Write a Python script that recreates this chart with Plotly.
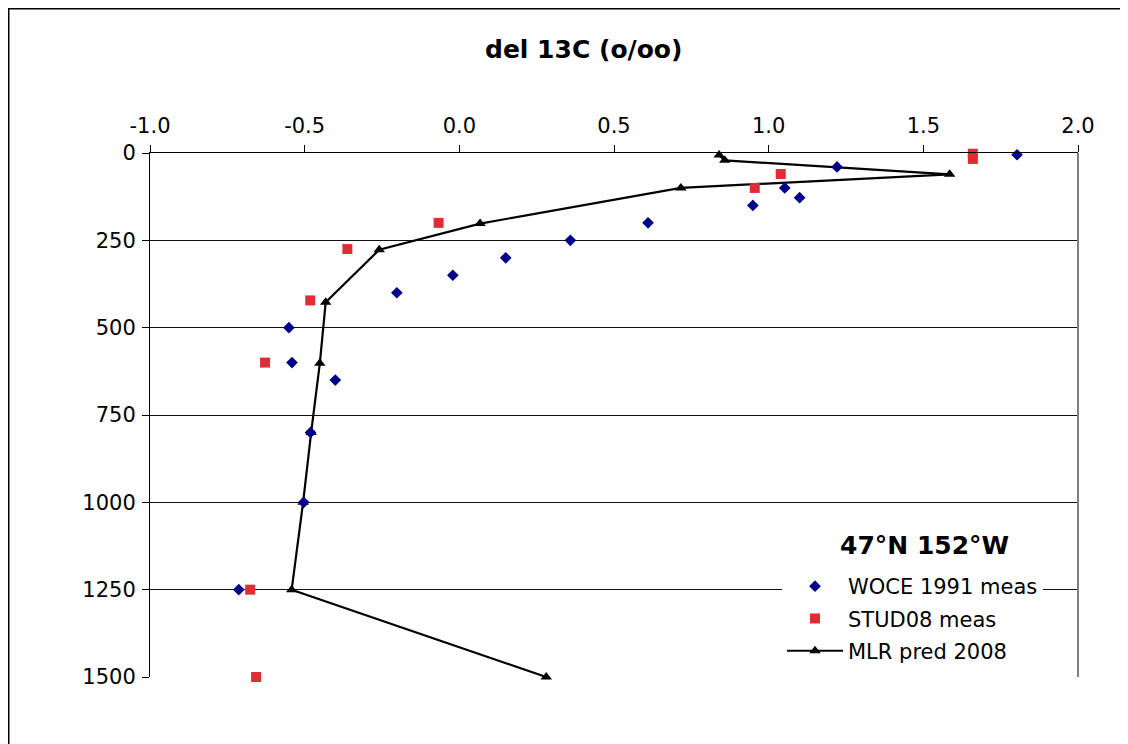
import plotly.graph_objects as go

# WOCE 1991 measurements
woce_x = [1.803, 1.221, 1.052, 1.100, 0.949, 0.610, 0.359, 0.150, -0.021, -0.202,
          -0.551, -0.541, -0.401, -0.481, -0.503, -0.713]
woce_depth = [5, 40, 100, 128, 150, 200, 250, 300, 350, 400,
              500, 600, 650, 800, 1000, 1250]

# STUD08 measurements
stud_x = [1.660, 1.660, 1.039, 0.955, -0.067, -0.362, -0.482, -0.628, -0.676, -0.657]
stud_depth = [2, 17, 60, 100, 200, 275, 422, 600, 1250, 1500]

# MLR prediction 2008
mlr_x = [0.840, 0.858, 1.585, 0.716, 0.067, -0.259, -0.432, -0.451, -0.479, -0.505,
         -0.542, 0.281]
mlr_depth = [6, 21, 61, 100, 202, 277, 427, 602, 800, 1000, 1250, 1500]

x_ticks = [-1.0, -0.5, 0.0, 0.5, 1.0, 1.5, 2.0]
y_ticks = [0, 250, 500, 750, 1000, 1250, 1500]

FONT = "DejaVu Sans"
# page body has an 8px margin, so figure coords = screen coords - 8
W, H = 1120, 736
L, R, T, B = 142, 1070, 145, 669


def px(x):
    return (x - L) / (R - L)


def py(y):
    return (B - y) / (B - T)


fig = go.Figure()
fig.add_trace(go.Scatter(
    x=mlr_x, y=mlr_depth, mode="lines+markers", name="MLR pred 2008",
    line=dict(color="black", width=2.2),
    marker=dict(symbol="triangle-up", size=10, color="black"),
    cliponaxis=False, legendrank=3, legendgroup="c"))
fig.add_trace(go.Scatter(
    x=woce_x, y=woce_depth, mode="markers", name="WOCE 1991 meas",
    marker=dict(symbol="diamond", size=9, color="#000088"),
    cliponaxis=False, legendrank=1, legendgroup="a"))
fig.add_trace(go.Scatter(
    x=stud_x, y=stud_depth, mode="markers", name="STUD08 meas",
    marker=dict(symbol="square", size=10, color="#DE2D35"),
    cliponaxis=False, legendrank=2, legendgroup="b"))

fig.update_layout(
    width=W, height=H,
    margin=dict(l=L, r=W - R, t=T, b=H - B, pad=0),
    paper_bgcolor="white", plot_bgcolor="white",
    font=dict(family=FONT, size=21, color="black"),
    showlegend=True,
    legend=dict(x=px(774), y=py(558), xanchor="left", yanchor="top",
                bgcolor="white", borderwidth=0, traceorder="grouped",
                tracegroupgap=2, itemwidth=56,
                font=dict(size=21, family=FONT)),
    xaxis=dict(side="top", range=[-1, 2], tickvals=x_ticks,
               ticktext=[f"{v:.1f}" for v in x_ticks],
               ticks="outside", ticklen=7, tickcolor="black",
               showline=True, linecolor="black", linewidth=1,
               showgrid=False, zeroline=False, ticklabelstandoff=4),
    yaxis=dict(range=[1500, 0], tickvals=y_ticks,
               ticks="outside", ticklen=7, tickcolor="black",
               showline=True, linecolor="black", linewidth=1,
               showgrid=True, gridcolor="#111111", gridwidth=1,
               zeroline=False, ticklabelstandoff=2),
    annotations=[
        dict(text="<b>del 13C (o/oo)</b>", x=px(575), y=py(42),
             xref="paper", yref="paper", showarrow=False,
             font=dict(size=25, family=FONT), xanchor="center", yanchor="middle"),
        dict(text="<b>47°N 152°W</b>", x=px(830), y=py(537),
             xref="paper", yref="paper", showarrow=False,
             font=dict(size=25, family=FONT), xanchor="left", yanchor="middle"),
    ],
    shapes=[
        dict(type="line", xref="paper", yref="paper", x0=1, x1=1, y0=0, y1=1,
             line=dict(color="#808080", width=2)),
        dict(type="line", xref="paper", yref="paper", x0=px(0), x1=px(W),
             y0=py(0.5), y1=py(0.5), line=dict(color="black", width=2)),
        dict(type="line", xref="paper", yref="paper", x0=px(0.5), x1=px(0.5),
             y0=py(0), y1=py(H), line=dict(color="black", width=2)),
    ],
)

fig.write_html("out.html")
